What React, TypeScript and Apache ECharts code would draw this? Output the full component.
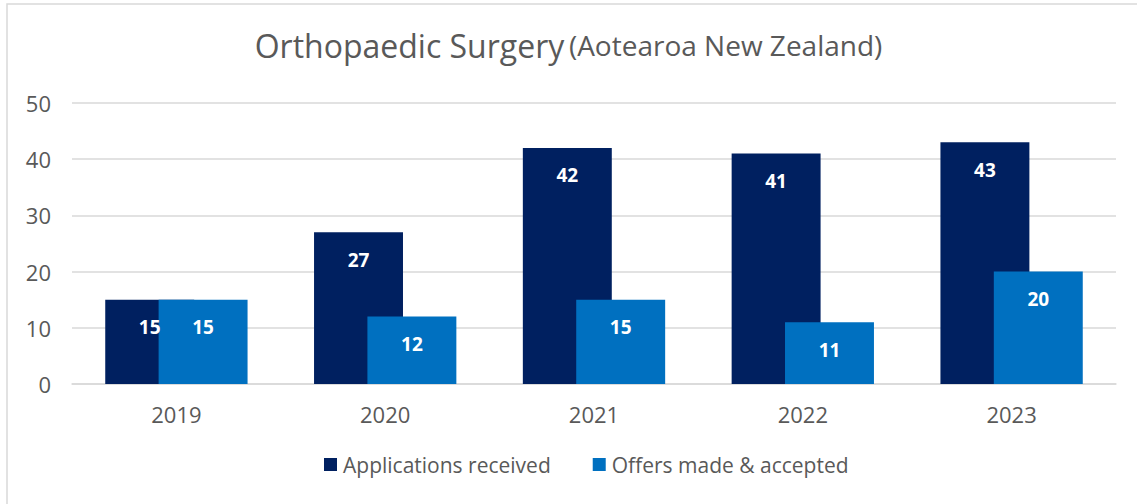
import React, { useEffect, useRef } from "react";
import * as echarts from "echarts";

const categories = ["2019", "2020", "2021", "2022", "2023"];
const applications = [15, 27, 42, 41, 43];
const offers = [15, 12, 15, 11, 20];
const seriesNames = ["Applications received", "Offers made & accepted"];
const FONT = "'Open Sans', sans-serif";

export default function App() {
  const ref = useRef<HTMLDivElement>(null);
  useEffect(() => {
    if (!ref.current) return;
    const chart = echarts.init(ref.current, undefined, { renderer: "svg" });
    const label = {
      show: true,
      position: "insideTop",
      distance: 18,
      color: "#ffffff",
      fontWeight: "bold",
      fontSize: 19,
      fontFamily: FONT,
    };
    chart.setOption({
      animation: false,
      textStyle: { fontFamily: FONT },
      title: {
        text: "{a|Orthopaedic Surgery} {b|(Aotearoa New Zealand)}",
        left: "center",
        top: 24,
        textStyle: {
          fontWeight: "normal",
          rich: {
            a: { fontSize: 32, color: "#595959", fontFamily: FONT, fontWeight: "normal" },
            b: { fontSize: 28, color: "#595959", fontFamily: FONT, fontWeight: "normal" },
          },
        },
      },
      graphic: [
        {
          type: "rect",
          shape: { x: 7, y: 4, width: 1200, height: 600 },
          style: { fill: "none", stroke: "#D9D9D9", lineWidth: 1.5 },
          silent: true,
        },
      ],
      legend: {
        bottom: 24,
        left: 319,
        itemWidth: 13,
        itemHeight: 13,
        itemGap: 42,
        icon: "rect",
        textStyle: { fontSize: 21, color: "#595959", fontFamily: FONT, padding: [0, 0, 0, 1] },
        data: seriesNames,
      },
      grid: { left: 72, right: 21, top: 103, bottom: 120 },
      xAxis: {
        type: "category",
        data: categories,
        axisTick: { show: false },
        axisLine: { show: true, lineStyle: { color: "#D9D9D9", width: 1.5 } },
        axisLabel: { color: "#595959", fontSize: 22, margin: 19, fontFamily: FONT },
      },
      yAxis: {
        type: "value",
        min: 0,
        max: 50,
        interval: 10,
        axisLine: { show: false },
        axisTick: { show: false },
        splitLine: { lineStyle: { color: "#D9D9D9", width: 1.5 } },
        axisLabel: { color: "#595959", fontSize: 22, margin: 21, fontFamily: FONT },
      },
      series: [
        {
          name: seriesNames[0],
          type: "bar",
          data: applications,
          barWidth: "42.6%",
          barGap: "-40%",
          itemStyle: { color: "#002060" },
          label,
        },
        {
          name: seriesNames[1],
          type: "bar",
          data: offers,
          barWidth: "42.6%",
          barGap: "-40%",
          itemStyle: { color: "#0070C0" },
          label,
        },
      ],
    });
    return () => chart.dispose();
  }, []);
  return (
    <div
      ref={ref}
      style={{ position: "absolute", left: 0, top: 0, width: 1137, height: 504, background: "#fff" }}
    />
  );
}
